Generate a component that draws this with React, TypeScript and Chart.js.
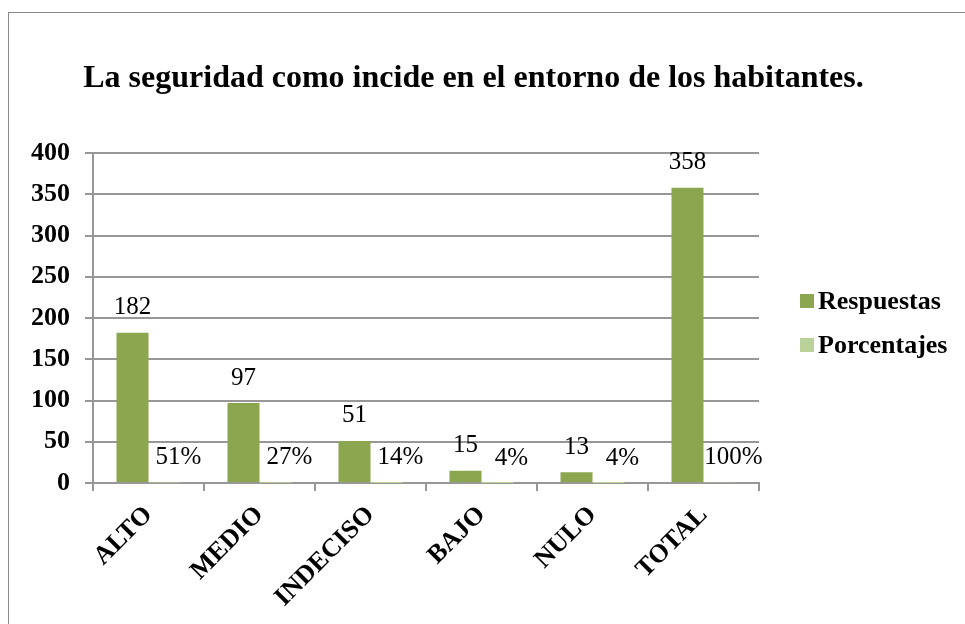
import React, { useEffect, useRef } from "react";
import { Chart, registerables } from "chart.js";

Chart.register(...registerables);

const TITLE = "La seguridad como incide en el entorno de los habitantes.";
const categories = ["ALTO", "MEDIO", "INDECISO", "BAJO", "NULO", "TOTAL"];
const respuestas = [182, 97, 51, 15, 13, 358];
const porcentajes = [0.51, 0.27, 0.14, 0.04, 0.04, 1.0];
const yTicks = [0, 50, 100, 150, 200, 250, 300, 350, 400];

const SERIF = "'Liberation Serif', 'Times New Roman', serif";
const GREEN = "#8ba64f";
const LIGHT = "#bad19a";
const GRID = "#979797";

const extrasPlugin = {
  id: "extras",
  afterDatasetsDraw(chart: any) {
    const ctx = chart.ctx;
    const area = chart.chartArea;
    ctx.save();
    // title
    ctx.fillStyle = "#000";
    ctx.font = `bold 32px ${SERIF}`;
    ctx.textAlign = "center";
    ctx.textBaseline = "middle";
    ctx.fillText(TITLE, chart.width / 2 - 13.5, area.top - 74);

    // data labels
    ctx.font = `25px ${SERIF}`;
    const m0 = chart.getDatasetMeta(0);
    m0.data.forEach((bar: any, i: number) => {
      ctx.fillText(String(respuestas[i]), bar.x, bar.y - 25);
    });
    const m1 = chart.getDatasetMeta(1);
    m1.data.forEach((bar: any, i: number) => {
      ctx.fillText(Math.round(porcentajes[i] * 100) + "%", bar.x + 14, bar.y - 25);
    });

    // legend
    const ds = chart.data.datasets;
    const midY = (area.top + area.bottom) / 2;
    const lx = area.right + 41;
    ds.forEach((d: any, i: number) => {
      const cy = midY - 17 + i * 44;
      ctx.fillStyle = d.backgroundColor;
      ctx.fillRect(lx, cy - 7, 14, 14);
      ctx.fillStyle = "#000";
      ctx.font = `bold 26px ${SERIF}`;
      ctx.textAlign = "left";
      ctx.textBaseline = "middle";
      ctx.fillText(d.label, lx + 18, cy + 1);
    });
    ctx.restore();
  },
};

function App() {
  const ref = useRef<HTMLCanvasElement | null>(null);
  useEffect(() => {
    if (!ref.current) return;
    const chart = new Chart(ref.current, {
      type: "bar",
      data: {
        labels: categories,
        datasets: [
          {
            label: "Respuestas",
            data: respuestas,
            backgroundColor: GREEN,
            barPercentage: 1,
            categoryPercentage: 0.577,
          },
          {
            label: "Porcentajes",
            data: porcentajes,
            backgroundColor: LIGHT,
            barPercentage: 1,
            categoryPercentage: 0.577,
          },
        ],
      },
      options: {
        animation: false,
        responsive: false,
        maintainAspectRatio: false,
        layout: { padding: { top: 140, left: 0, right: 206, bottom: 0 } },
        plugins: {
          legend: { display: false },
          title: { display: false },
          tooltip: { enabled: false },
        },
        scales: {
          x: {
            afterFit: (s: any) => {
              s.height = 141;
            },
            grid: {
              display: true,
              drawOnChartArea: false,
              drawTicks: true,
              tickLength: 8,
              color: GRID,
              lineWidth: 2,
              offset: true,
            },
            border: { display: true, color: GRID, width: 2 },
            ticks: {
              maxRotation: 45,
              minRotation: 45,
              padding: 9,
              color: "#000",
              font: { family: SERIF, size: 26, weight: "bold" },
            },
          },
          y: {
            min: 0,
            max: 400,
            afterFit: (s: any) => {
              s.width = 84;
            },
            afterBuildTicks: (s: any) => {
              s.ticks = yTicks.map((v) => ({ value: v }));
            },
            grid: {
              color: GRID,
              lineWidth: 2,
              drawTicks: true,
              tickLength: 8,
            },
            border: { display: true, color: GRID, width: 2 },
            ticks: {
              padding: 15,
              color: "#000",
              font: { family: SERIF, size: 26, weight: "bold" },
            },
          },
        },
      },
      plugins: [extrasPlugin],
    } as any);
    return () => chart.destroy();
  }, []);

  return (
    <div
      style={{
        position: "absolute",
        left: 8,
        top: 12,
        width: 1000,
        height: 700,
        border: "1.5px solid #8a8a8a",
        boxSizing: "border-box",
        background: "#fff",
      }}
    >
      <canvas
        ref={ref}
        width={956}
        height={611}
        style={{ position: "absolute", left: 0, top: 0, width: 956, height: 611 }}
      />
    </div>
  );
}

export default App;
